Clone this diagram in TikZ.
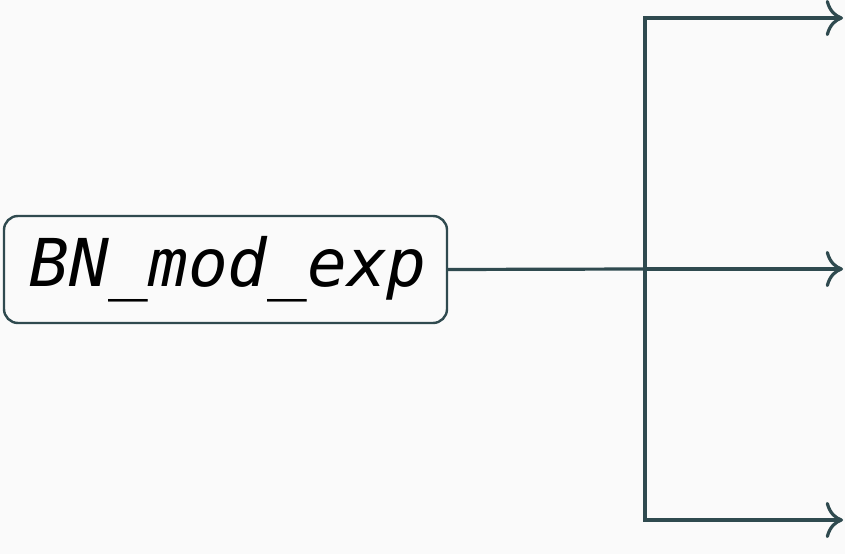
\documentclass[tikz,border=0pt]{standalone}
\usepackage{fontspec}
\usetikzlibrary{arrows.meta}
\newfontfamily\codefont{DejaVu Sans Mono}
\definecolor{bgcol}{HTML}{FAFAFA}
\definecolor{linecol}{HTML}{2F4A4F}
\tikzset{
    funcbox/.style={draw=linecol, line width=2.4pt, rounded corners=14pt, fill=bgcol,
        minimum width=443pt, minimum height=107pt, inner sep=0pt,
        font=\codefont\itshape\fontsize{66}{72}\selectfont},
    branch/.style={draw=linecol, line width=3.2pt},
    outarrow/.style={branch, -{Computer Modern Rightarrow[scale=2]}}
}
\begin{document}
\begin{tikzpicture}[x=1pt, y=1pt]
        % canvas
        \fill[bgcol] (0,0) rectangle (845,554);
        \useasboundingbox (0,0) rectangle (845,554);

        % function node
        \node[funcbox] (fn) at (225.5,284.5) {\hspace*{5pt}BN\_mod\_exp};

        % split point and outputs
        \coordinate (split) at (645,285);
        \coordinate (outA) at (843,536);
        \coordinate (outB) at (843,285);
        \coordinate (outC) at (843,34);

        \draw[branch] (fn.east) -- (split);
        \draw[outarrow] (split) |- (outA);
        \draw[outarrow] (split) -- (outB);
        \draw[outarrow] (split) |- (outC);
    \end{tikzpicture}
\end{document}
